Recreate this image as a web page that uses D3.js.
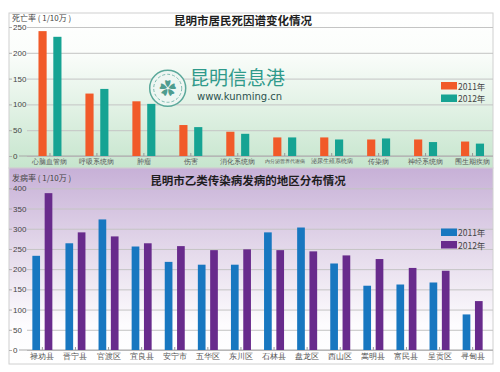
<!DOCTYPE html>
<html>
<head>
<meta charset="utf-8">
<script src="https://cdn.jsdelivr.net/npm/d3@7"></script>
<style>
  body { margin: 0; background: #fff; }
  svg { display: block; font-family: "Noto Sans CJK SC", "Noto Sans", sans-serif; }
  .grid line { stroke: #c4c4c4; stroke-width: 1; }
  .grid path { display: none; }
  .eje path { display: none; }
  .eje line { stroke: #b0b0b0; }
  .eje text { fill: #444; font-size: 8px; }
  .ejex path { display: none; }
  .ejex line { stroke: #999; }
  .ejex text { fill: #555; }
</style>
</head>
<body>
<div id="grafico"></div>
<script>
/////////// DATOS /////////
var causas = ["心脑血管病", "呼吸系统病", "肿瘤", "伤害", "消化系统病", "内分泌营养代谢病", "泌尿生殖系统病", "传染病", "神经系统病", "围生期疾病"];
var muerte2011 = [242, 121, 106, 60, 47, 36, 36, 32, 32, 28];
var muerte2012 = [231, 130, 101, 56, 43, 36, 32, 34, 27, 24];
var ticksMuerte = [0, 50, 100, 150, 200, 250];

var zonas = ["禄劝县", "晋宁县", "官渡区", "宜良县", "安宁市", "五华区", "东川区", "石林县", "盘龙区", "西山区", "嵩明县", "富民县", "呈贡区", "寻甸县"];
var casos2011 = [233, 264, 323, 256, 218, 211, 211, 291, 303, 214, 159, 162, 167, 88];
var casos2012 = [388, 291, 281, 264, 257, 247, 249, 247, 244, 234, 225, 203, 196, 121];
var ticksCasos = [0, 50, 100, 150, 200, 250, 300, 350, 400];

var anios = ["2011", "2012"];

/////////// SVG /////////
var svg = d3.select("#grafico").append("svg")
  .attr("width", 500)
  .attr("height", 372);

var defs = svg.append("defs");

var gVerde = defs.append("linearGradient").attr("id", "fondoVerde")
  .attr("x1", 0).attr("y1", 0).attr("x2", 0).attr("y2", 1);
gVerde.append("stop").attr("offset", "0%").attr("stop-color", "#ffffff");
gVerde.append("stop").attr("offset", "25%").attr("stop-color", "#fbfdfb");
gVerde.append("stop").attr("offset", "100%").attr("stop-color", "#c6e5cd");

var gMorado = defs.append("linearGradient").attr("id", "fondoMorado")
  .attr("x1", 0).attr("y1", 0).attr("x2", 0).attr("y2", 1);
gMorado.append("stop").attr("offset", "0%").attr("stop-color", "#c7b0d7");
gMorado.append("stop").attr("offset", "45%").attr("stop-color", "#e6dcec");
gMorado.append("stop").attr("offset", "80%").attr("stop-color", "#fdfcfe");
gMorado.append("stop").attr("offset", "100%").attr("stop-color", "#ffffff");

function panel(cfg) {
  var g = svg.append("g");

  // fondo
  g.append("rect")
    .attr("x", cfg.left).attr("y", cfg.top)
    .attr("width", cfg.right - cfg.left).attr("height", cfg.bottom - cfg.top)
    .attr("fill", cfg.fondo)
    .attr("stroke", "#d0d0d0");

  var y = d3.scaleLinear().domain(cfg.dominio).range([cfg.y0, cfg.y1]);

  // grid Y
  g.append("g")
    .attr("class", "grid")
    .attr("transform", "translate(" + cfg.right + ",0)")
    .call(d3.axisLeft(y).tickValues(cfg.ticks).tickSize(cfg.right - cfg.gridX).tickFormat(""));

  // eje Y
  g.append("g")
    .attr("class", "eje")
    .attr("transform", "translate(" + cfg.left + ",0)")
    .call(d3.axisRight(y).tickValues(cfg.ticks).tickSize(3).tickPadding(1));

  // linea base
  g.append("line")
    .attr("x1", cfg.gridX - 8).attr("x2", cfg.right)
    .attr("y1", y(0)).attr("y2", y(0))
    .attr("stroke", "#a8a8a8");

  var x = d3.scaleBand().domain(cfg.cats).range(cfg.rangoX);
  var bw = x.bandwidth();
  var x1 = d3.scaleBand().domain(anios)
    .range([bw / 2 - cfg.grupo / 2, bw / 2 + cfg.grupo / 2])
    .paddingInner(cfg.pad);
  var color = d3.scaleOrdinal().domain(anios).range(cfg.colores);

  // eje X
  var ejeX = g.append("g")
    .attr("class", "ejex")
    .attr("transform", "translate(0," + y(0) + ")")
    .call(d3.axisBottom(x).tickSize(-3).tickPadding(3));
  ejeX.selectAll("text")
    .attr("font-size", function(d) { return Math.min(cfg.fx, cfg.maxAncho / d.length) + "px"; });

  // barras
  var filas = cfg.cats.map(function(c, i) {
    return { cat: c, vals: [cfg.s1[i], cfg.s2[i]] };
  });
  g.selectAll(".grupo")
    .data(filas)
    .enter().append("g")
    .attr("transform", function(d) { return "translate(" + x(d.cat) + ",0)"; })
    .selectAll("rect")
    .data(function(d) { return d.vals.map(function(v, j) { return { anio: anios[j], v: v }; }); })
    .enter().append("rect")
    .attr("x", function(d) { return x1(d.anio); })
    .attr("width", x1.bandwidth())
    .attr("y", function(d) { return y(d.v); })
    .attr("height", function(d) { return y(0) - y(d.v); })
    .attr("fill", function(d) { return color(d.anio); });

  // titulo
  g.append("text")
    .attr("x", cfg.tituloX).attr("y", cfg.tituloY)
    .attr("text-anchor", "middle")
    .attr("font-weight", "bold")
    .attr("font-size", "11.5px")
    .attr("fill", "#1e1e1e")
    .text(cfg.titulo);

  // titulo eje Y
  g.append("text")
    .attr("x", cfg.left + 3).attr("y", cfg.etiquetaY)
    .attr("font-size", "8px")
    .attr("fill", "#444")
    .text(cfg.etiqueta);

  // leyenda
  var ley = g.append("g").attr("transform", "translate(441," + cfg.leyendaY + ")");
  anios.forEach(function(a, j) {
    ley.append("rect")
      .attr("x", 0).attr("y", j * 12.5)
      .attr("width", 16).attr("height", 7.5)
      .attr("fill", color(a));
    ley.append("text")
      .attr("x", 17).attr("y", j * 12.5 + 7.5)
      .attr("font-size", "8.5px")
      .attr("fill", "#444")
      .text(a + "年");
  });
  return g;
}

/////////// PANEL SUPERIOR /////////
panel({
  left: 9, right: 493, top: 13, bottom: 168, gridX: 27,
  fondo: "url(#fondoVerde)",
  dominio: [0, 250], y0: 156, y1: 27, ticks: ticksMuerte,
  cats: causas, rangoX: [26.5, 496], grupo: 23, pad: 0.45,
  s1: muerte2011, s2: muerte2012,
  colores: ["#f15a29", "#16a393"],
  fx: 7.3, maxAncho: 42,
  titulo: "昆明市居民死因谱变化情况", tituloX: 243, tituloY: 25,
  etiqueta: "死亡率 ( 1/10万 )", etiquetaY: 20.5,
  leyendaY: 82
});

/////////// PANEL INFERIOR /////////
panel({
  left: 9, right: 493, top: 168, bottom: 364, gridX: 27,
  fondo: "url(#fondoMorado)",
  dominio: [0, 400], y0: 350, y1: 188.3, ticks: ticksCasos,
  cats: zonas, rangoX: [25.8, 489.2], grupo: 20, pad: 0.375,
  s1: casos2011, s2: casos2012,
  colores: ["#1877c0", "#682b8c"],
  fx: 7.8, maxAncho: 30,
  titulo: "昆明市乙类传染病发病的地区分布情况", tituloX: 248, tituloY: 185,
  etiqueta: "发病率 ( 1/10万 )", etiquetaY: 180.5,
  leyendaY: 228.5
});

/////////// MARCA DE AGUA /////////
var marca = svg.append("g");
marca.append("circle")
  .attr("cx", 167.7).attr("cy", 88.3).attr("r", 18)
  .attr("fill", "#eef6f2").attr("stroke", "#5aa89a").attr("stroke-width", 1.5);
marca.append("circle")
  .attr("cx", 167.7).attr("cy", 88.3).attr("r", 14)
  .attr("fill", "none").attr("stroke", "#7dbbb0").attr("stroke-width", 1)
  .attr("stroke-dasharray", "3,2");
marca.append("text")
  .attr("x", 167.7).attr("y", 95)
  .attr("text-anchor", "middle")
  .attr("font-size", "17px")
  .attr("fill", "#4f9c8f")
  .text("✿");
marca.append("text")
  .attr("x", 190).attr("y", 84.5)
  .attr("font-size", "19px")
  .attr("fill", "#2f9a8b")
  .text("昆明信息港");
marca.append("text")
  .attr("x", 197).attr("y", 99.5)
  .attr("font-size", "10px")
  .attr("font-family", "DejaVu Sans, sans-serif")
  .attr("fill", "#2c524e")
  .text("www.kunming.cn");
</script>
</body>
</html>
